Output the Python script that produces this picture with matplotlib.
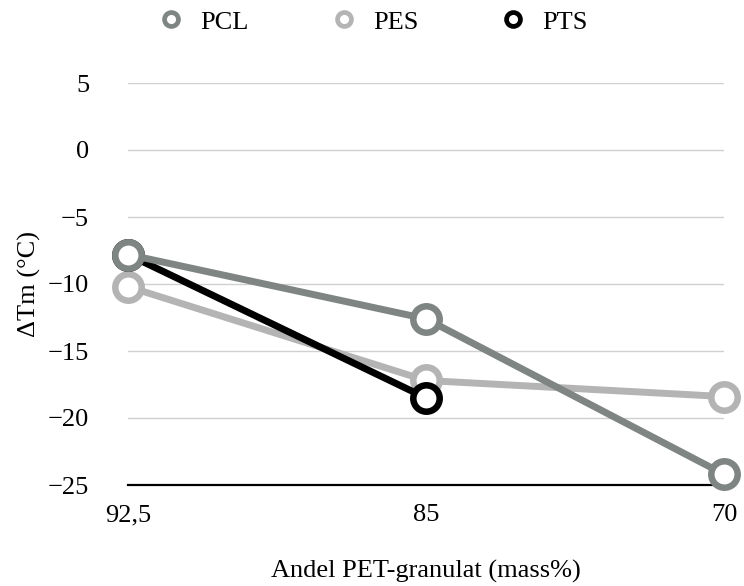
import matplotlib
matplotlib.use("Agg")
import matplotlib.pyplot as plt
from matplotlib.lines import Line2D

plt.rcParams['font.family'] = ['Liberation Serif', 'DejaVu Serif']

categories = ["92,5", "85", "70"]
series_names = ["PCL", "PES", "PTS"]
pcl = [-7.8, -12.6, -24.2]
pes = [-10.2, -17.2, -18.4]
pts = [-7.8, -18.5]
colors = ["#7f8582", "#b4b4b4", "#000000"]
yticks = [5, 0, -5, -10, -15, -20, -25]

fig = plt.figure(figsize=(7.44, 5.86), dpi=100)
ax = fig.add_axes([128/744, 1-485/586, (724-128)/744, (485-83)/586])

x = list(range(len(categories)))
data = [pcl, pes, pts]
# draw PES first (bottom), then PTS, then PCL on top
order = [1, 2, 0]
for i in order:
    vals = data[i]
    ax.plot(x[:len(vals)], vals, color=colors[i], lw=5.0, marker='o',
            markersize=19, markerfacecolor='white', markeredgecolor=colors[i],
            markeredgewidth=4.7, zorder=3 + order.index(i), clip_on=False,
            solid_joinstyle='round')

ax.set_xlim(0, 2)
ax.set_ylim(-25, 5)
ax.set_yticks(yticks)
ax.set_yticklabels([("\u2212" + str(abs(v))) if v < 0 else str(v) for v in yticks])
ax.set_xticks(x)
ax.set_xticklabels(categories)
ax.grid(axis='y', color='#d0d0d0', lw=1.0)
ax.set_axisbelow(True)
for s in ['top', 'right', 'left']:
    ax.spines[s].set_visible(False)
ax.spines['bottom'].set_color('black')
ax.spines['bottom'].set_linewidth(1.6)
ax.spines['bottom'].set_zorder(2)
ax.tick_params(axis='both', length=0, labelsize=19)
ax.tick_params(axis='y', pad=28)
ax.tick_params(axis='x', pad=14)

ax.set_ylabel("ΔTm (°C)", fontsize=19, labelpad=5)
ax.set_xlabel("Andel PET-granulat (mass%)", fontsize=19, labelpad=24)

handles = [Line2D([], [], linestyle='none', marker='o', markersize=10,
                  markerfacecolor='white', markeredgecolor=c, markeredgewidth=3.4)
           for c in colors]
fig.legend(handles, series_names, loc='center', bbox_to_anchor=(373/744, 1-22/586),
           ncol=3, frameon=False, fontsize=19, handlelength=1.0, handletextpad=0.6,
           columnspacing=3.1)

fig.savefig("out.png", dpi=100)
